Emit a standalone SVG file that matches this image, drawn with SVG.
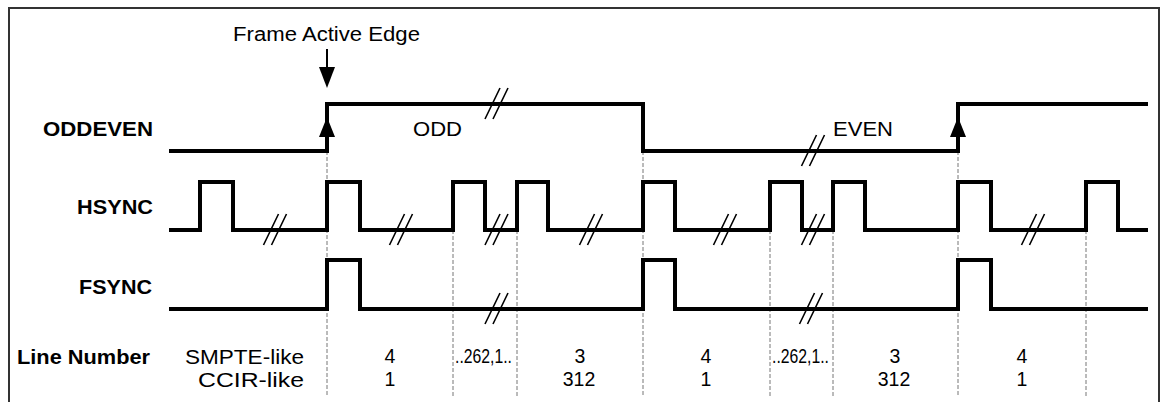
<svg xmlns="http://www.w3.org/2000/svg" xmlns:xlink="http://www.w3.org/1999/xlink" width="1167" height="402" viewBox="0 0 1167 402">
  <style>
    text { font-family: "Liberation Sans", Arial, sans-serif; font-size: 19.5px; fill: #000; }
    .b { font-weight: bold; }
    .m { text-anchor: middle; }
    .sig { fill: none; stroke: #000; stroke-width: 4; stroke-linejoin: miter; stroke-linecap: butt; }
    .dash { fill: none; stroke: #777; stroke-width: 1; stroke-dasharray: 4 2; }
    .brk { fill: none; stroke: #000; stroke-width: 1.6; }
    .frame { fill: none; stroke: #333; stroke-width: 2; }
  </style>
  <defs>
    <g id="brk">
      <path class="brk" d="M-11.5,15 L3.5,-16 M-3.5,15 L11.5,-16"/>
    </g>
    <polygon id="upArrow" points="0,0 8,20 -8,20" fill="#000"/>
  </defs>
  <rect width="1167" height="402" fill="#fff"/>
  <path class="frame" d="M9,410 V8 H1159 V410"/>

  <g id="connectors">
    <line class="dash" x1="327" y1="151" x2="327" y2="397"/>
    <line class="dash" x1="643" y1="151" x2="643" y2="397"/>
    <line class="dash" x1="958" y1="151" x2="958" y2="397"/>
    <line class="dash" x1="453" y1="230" x2="453" y2="397"/>
    <line class="dash" x1="517" y1="230" x2="517" y2="397"/>
    <line class="dash" x1="770" y1="230" x2="770" y2="397"/>
    <line class="dash" x1="833" y1="230" x2="833" y2="397"/>
    <line class="dash" x1="1086" y1="230" x2="1086" y2="397"/>
  </g>

  <g id="frame-active-edge">
    <text x="233" y="41" textLength="187" lengthAdjust="spacingAndGlyphs">Frame Active Edge</text>
    <line x1="327" y1="49" x2="327" y2="70" stroke="#000" stroke-width="2"/>
    <polygon points="319,67 335,67 327,88" fill="#000"/>
  </g>

  <g id="oddeven">
    <text class="b" x="43" y="136" textLength="110" lengthAdjust="spacingAndGlyphs">ODDEVEN</text>
    <path class="sig" d="M169,151 H327 V104 H643 V151 H958 V104 H1148"/>
    <use xlink:href="#upArrow" x="327" y="117"/>
    <use xlink:href="#upArrow" x="958" y="117"/>
    <use xlink:href="#brk" x="496.5" y="104"/>
    <use xlink:href="#brk" x="813" y="151"/>
    <text x="413" y="136" textLength="49" lengthAdjust="spacingAndGlyphs">ODD</text>
    <text x="833" y="136" textLength="60" lengthAdjust="spacingAndGlyphs">EVEN</text>
  </g>

  <g id="hsync">
    <text class="b" x="77" y="214" textLength="76" lengthAdjust="spacingAndGlyphs">HSYNC</text>
    <path class="sig" d="M169,230 H200 V182 H233 V230 H327 V182 H360 V230 H453 V182 H485 V230 H517 V182 H548 V230 H643 V182 H675 V230 H770 V182 H802 V230 H833 V182 H865 V230 H958 V182 H991 V230 H1086 V182 H1118 V230 H1148"/>
    <use xlink:href="#brk" x="275" y="230"/>
    <use xlink:href="#brk" x="401" y="230"/>
    <use xlink:href="#brk" x="496.5" y="230"/>
    <use xlink:href="#brk" x="591" y="230"/>
    <use xlink:href="#brk" x="725" y="230"/>
    <use xlink:href="#brk" x="813" y="230"/>
    <use xlink:href="#brk" x="1033" y="230"/>
  </g>

  <g id="fsync">
    <text class="b" x="79" y="294" textLength="73" lengthAdjust="spacingAndGlyphs">FSYNC</text>
    <path class="sig" d="M169,309 H327 V260 H360 V309 H643 V260 H675 V309 H958 V260 H991 V309 H1148"/>
    <use xlink:href="#brk" x="496.5" y="309"/>
    <use xlink:href="#brk" x="811" y="309"/>
  </g>

  <g id="line-number">
    <text class="b" x="17" y="364" textLength="133" lengthAdjust="spacingAndGlyphs">Line Number</text>
    <text x="185" y="364" textLength="119" lengthAdjust="spacingAndGlyphs">SMPTE-like</text>
    <text x="198" y="387" textLength="106" lengthAdjust="spacingAndGlyphs">CCIR-like</text>
    <text class="m" x="390" y="363">4</text>
    <text x="455" y="363" textLength="57" lengthAdjust="spacingAndGlyphs">..262,1..</text>
    <text class="m" x="580" y="363">3</text>
    <text class="m" x="706" y="363">4</text>
    <text x="772" y="363" textLength="57" lengthAdjust="spacingAndGlyphs">..262,1..</text>
    <text class="m" x="895" y="363">3</text>
    <text class="m" x="1022" y="363">4</text>
    <text class="m" x="390" y="386">1</text>
    <text class="m" x="579" y="386">312</text>
    <text class="m" x="706" y="386">1</text>
    <text class="m" x="894" y="386">312</text>
    <text class="m" x="1022" y="386">1</text>
  </g>
</svg>
